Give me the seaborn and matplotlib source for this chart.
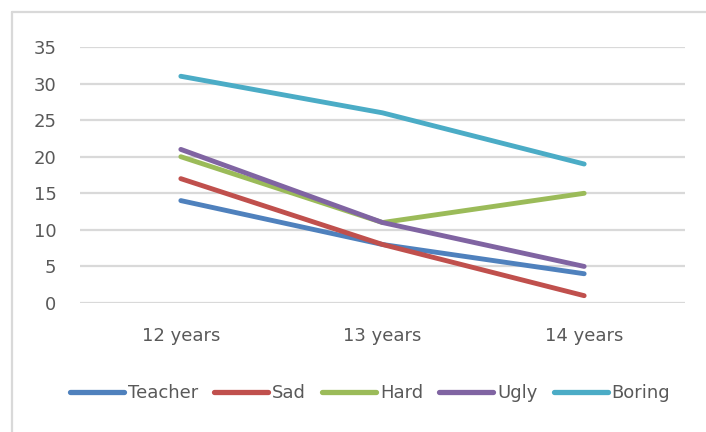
import matplotlib
matplotlib.use("Agg")
import matplotlib.pyplot as plt
from matplotlib.lines import Line2D
import seaborn as sns
import pandas as pd

# Survey responses per age group
ages = ["12 years", "13 years", "14 years"]
teacher = [14, 8, 4]
sad = [17, 8, 1]
hard = [20, 11, 15]
ugly = [21, 11, 5]
boring = [31, 26, 19]

series_names = ["Teacher", "Sad", "Hard", "Ugly", "Boring"]
series_values = [teacher, sad, hard, ugly, boring]
colors = ["#4F81BD", "#C0504D", "#9BBB59", "#8064A2", "#4BACC6"]

rows = []
for name, vals in zip(series_names, series_values):
    for i, (age, v) in enumerate(zip(ages, vals)):
        rows.append({"age": age, "pos": i, "series": name, "value": v})
df = pd.DataFrame(rows)

sns.set_theme(style="white")
plt.rcParams["font.family"] = ["DejaVu Sans"]
text_color = "#595959"
grid_color = "#D9D9D9"

fig = plt.figure(figsize=(7.06, 4.32), dpi=100)
ax = fig.add_axes([80 / 706, 1 - 303 / 432, 605 / 706, 256 / 432])

sns.lineplot(data=df, x="pos", y="value", hue="series", hue_order=series_names,
             palette=colors, linewidth=3.5, ax=ax, legend=False,
             solid_capstyle="round", solid_joinstyle="round", zorder=3)

ax.set_xlim(-0.5, 2.5)
ax.set_ylim(0, 35)
ax.set_yticks(range(0, 36, 5))
ax.set_xticks(range(len(ages)))
ax.set_xticklabels(ages)
ax.set_xlabel("")
ax.set_ylabel("")
for s in ax.spines.values():
    s.set_visible(False)
ax.yaxis.grid(True, color=grid_color, linewidth=1.6)
ax.xaxis.grid(False)
ax.tick_params(axis="both", length=0, labelsize=13, colors=text_color)
ax.tick_params(axis="y", pad=17)
ax.tick_params(axis="x", pad=17)

handles = [Line2D([0], [0], color=c, linewidth=3.8, solid_capstyle="round")
           for c in colors]
fig.legend(handles, series_names, loc="center", bbox_to_anchor=(370 / 706, 1 - 393 / 432),
           ncol=5, frameon=False, fontsize=13, handlelength=3.0, handletextpad=0.2,
           columnspacing=0.9, labelcolor=text_color)

# Chart area border
fig.add_artist(Line2D([12 / 706, 12 / 706], [0, 1 - 12 / 432], transform=fig.transFigure,
                      color=grid_color, linewidth=1.6))
fig.add_artist(Line2D([12 / 706, 1], [1 - 12 / 432, 1 - 12 / 432], transform=fig.transFigure,
                      color=grid_color, linewidth=1.6))

fig.savefig("out.png", dpi=100, facecolor="white")
